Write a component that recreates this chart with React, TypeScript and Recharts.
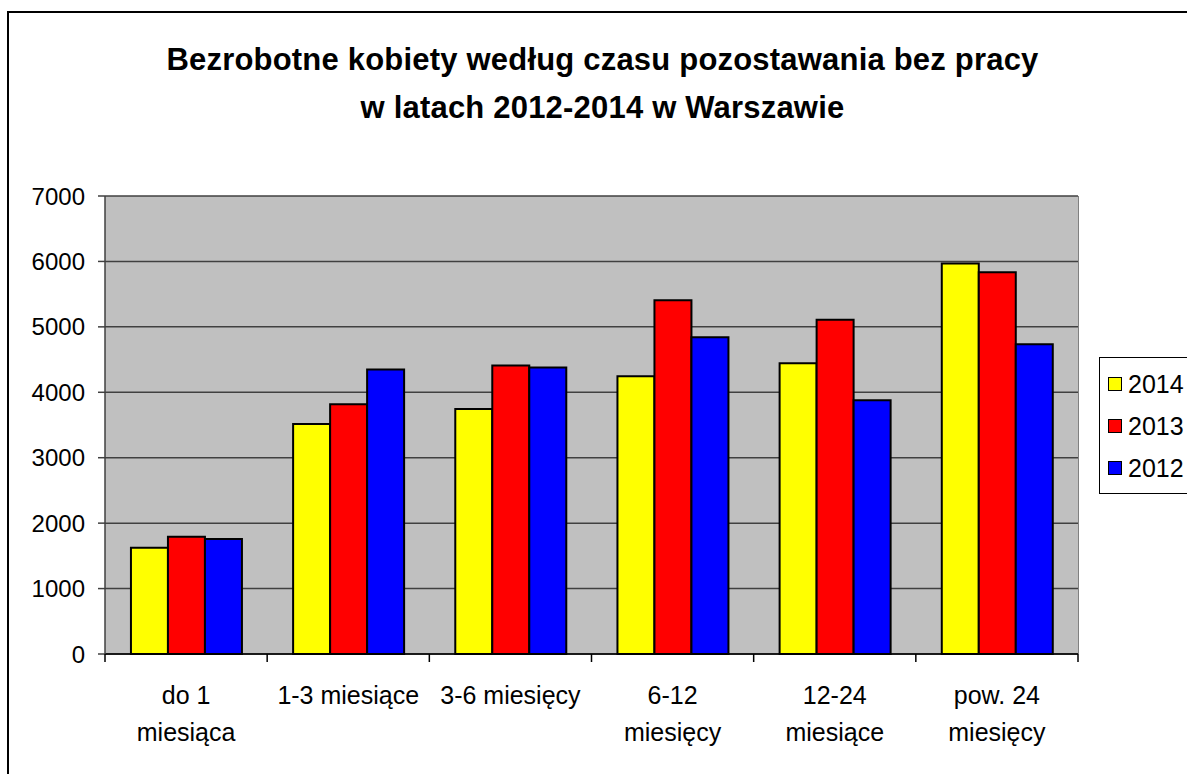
import React from "react";
import { BarChart, Bar, XAxis, YAxis, CartesianGrid } from "recharts";

const categories = [
  "do 1\nmiesiąca",
  "1-3 miesiące",
  "3-6 miesięcy",
  "6-12\nmiesięcy",
  "12-24\nmiesiące",
  "pow. 24\nmiesięcy",
];
const values2014 = [1625, 3517, 3746, 4246, 4445, 5968];
const values2013 = [1793, 3818, 4408, 5408, 5107, 5836];
const values2012 = [1758, 4347, 4378, 4843, 3879, 4735];
const yTicks = [0, 1000, 2000, 3000, 4000, 5000, 6000, 7000];
const titleLines = [
  "Bezrobotne kobiety według czasu pozostawania bez pracy",
  "w latach 2012-2014 w Warszawie",
];
const series = [
  { key: "y2014", name: "2014", color: "#FFFF00", values: values2014 },
  { key: "y2013", name: "2013", color: "#FF0000", values: values2013 },
  { key: "y2012", name: "2012", color: "#0000FF", values: values2012 },
];

const data = categories.map((c, i) => {
  const row: any = { cat: c };
  series.forEach((s) => (row[s.key] = s.values[i]));
  return row;
});

const FONT = "'Liberation Sans', Arial, sans-serif";

const CatTick = (props: any) => {
  const { x, y, payload, index, visibleTicksCount, width } = props;
  const count = visibleTicksCount || categories.length;
  const bw = (typeof width === "number" ? width : 973) / count;
  const lines = String(payload.value).split("\n");
  return (
    <g>
      <line x1={x - bw / 2} x2={x - bw / 2} y1={y} y2={y + 8} stroke="#000" strokeWidth={1.5} />
      {index === count - 1 && (
        <line x1={x + bw / 2} x2={x + bw / 2} y1={y} y2={y + 8} stroke="#000" strokeWidth={1.5} />
      )}
      <text x={x} y={y} textAnchor="middle" fontFamily={FONT} fontSize={25} fill="#000">
        {lines.map((l, i) => (
          <tspan key={i} x={x} dy={i === 0 ? 50 : 37}>
            {l}
          </tspan>
        ))}
      </text>
    </g>
  );
};

export default function App() {
  return (
    <div
      style={{
        position: "absolute",
        left: 0,
        top: 0,
        width: 1187,
        height: 774,
        overflow: "hidden",
        background: "#fff",
        fontFamily: FONT,
      }}
    >
      <div
        style={{
          position: "absolute",
          left: 7,
          top: 11,
          width: 1300,
          height: 900,
          border: "2px solid #000",
        }}
      />
      <div
        style={{
          position: "absolute",
          left: 0,
          top: 36,
          width: 1205,
          textAlign: "center",
          fontSize: 31,
          fontWeight: "bold",
          lineHeight: "48px",
          letterSpacing: 0.2,
          color: "#000",
        }}
      >
        {titleLines.map((t, i) => (
          <div key={i}>{t}</div>
        ))}
      </div>
      <div style={{ position: "absolute", left: 0, top: 0 }}>
        <BarChart
          width={1187}
          height={774}
          data={data}
          margin={{ top: 196, right: 109, bottom: 50, left: 0 }}
          barCategoryGap="16%"
          barGap={0}
        >
          <CartesianGrid
            vertical={false}
            fill="#C0C0C0"
            stroke="#404040"
            strokeWidth={1.5}
            horizontalValues={yTicks}
          />
          <XAxis
            dataKey="cat"
            interval={0}
            axisLine={{ stroke: "#000", strokeWidth: 1.5 }}
            tickLine={false}
            tickSize={0}
            tickMargin={0}
            height={70}
            tick={<CatTick />}
          />
          <YAxis
            width={105}
            domain={[0, 7000]}
            ticks={yTicks}
            interval={0}
            tickSize={7}
            tickMargin={13}
            axisLine={{ stroke: "#404040", strokeWidth: 1.5 }}
            tickLine={{ stroke: "#404040", strokeWidth: 1.5 }}
            tick={{ fill: "#000", fontSize: 24, fontFamily: FONT }}
          />
          {series.map((s) => (
            <Bar
              key={s.key}
              dataKey={s.key}
              name={s.name}
              fill={s.color}
              stroke="#000"
              strokeWidth={2}
              isAnimationActive={false}
            />
          ))}
        </BarChart>
      </div>
      <div
        style={{
          position: "absolute",
          left: 1078,
          top: 196,
          width: 1,
          height: 458,
          background: "#808080",
        }}
      />
      <div
        style={{
          position: "absolute",
          left: 1099,
          top: 357,
          width: 120,
          height: 135,
          border: "1px solid #000",
          background: "#fff",
        }}
      >
        {series.map((s, i) => (
          <div
            key={s.key}
            style={{
              position: "absolute",
              left: 8,
              top: 12 + i * 42,
              display: "flex",
              alignItems: "center",
              fontSize: 25,
              lineHeight: "28px",
            }}
          >
            <span
              style={{
                display: "inline-block",
                width: 12,
                height: 12,
                border: "1.5px solid #000",
                background: s.color,
                marginRight: 6,
              }}
            />
            <span>{s.name}</span>
          </div>
        ))}
      </div>
    </div>
  );
}
